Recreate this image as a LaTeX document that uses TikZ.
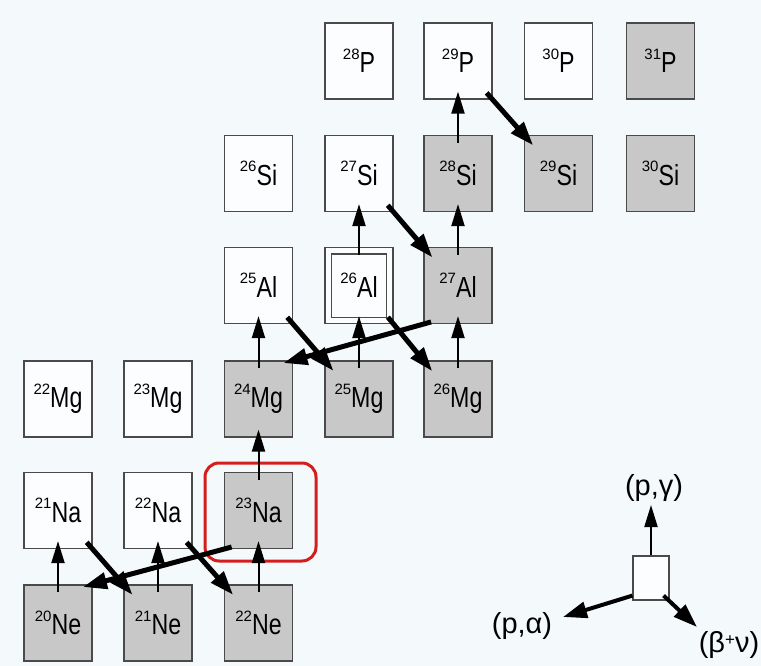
\documentclass[tikz,border=0pt]{standalone}
\usepackage{fontspec}
\setmainfont{Liberation Sans}
\usetikzlibrary{arrows.meta}
\definecolor{bg}{HTML}{F4FAFC}
\definecolor{stable}{HTML}{C8C8C8}
\definecolor{edgec}{HTML}{4A4A4A}
\definecolor{redbox}{HTML}{D41E1E}
\newcommand\iso[2]{\raisebox{13.5pt}{\fontsize{15}{15}\selectfont #1}\scalebox{0.8}[1]{\fontsize{29}{29}\selectfont #2}}
\begin{document}
\begin{tikzpicture}[x=1pt,y=-1pt,
 nuc/.style={draw=edgec, line width=1.2pt, minimum width=68pt, minimum height=76pt, inner sep=0pt, fill=white!60!bg},
 stab/.style={nuc, fill=stable},
 pgarr/.style={draw=black, line width=2pt, -{Triangle[length=22pt,width=13pt]}, shorten <=-8pt, shorten >=-8pt},
 bparr/.style={draw=black, line width=5pt, -{Triangle[length=24pt,width=16pt]}, shorten <=-9pt, shorten >=-14pt},
 paarr/.style={bparr, shorten <=-8pt, shorten >=-10pt},
 lab/.style={inner sep=0pt, font=\fontsize{29}{29}\selectfont},
]
\fill[bg] (0,0) rectangle (761,666);
\useasboundingbox (0,0) rectangle (761,666);
% nuclei
\node[stab] (ne20) at (58,623) {\iso{20}{Ne}};
\node[stab] (ne21) at (158,623) {\iso{21}{Ne}};
\node[stab] (ne22) at (258.5,623) {\iso{22}{Ne}};
\node[nuc] (na21) at (58,510.5) {\iso{21}{Na}};
\node[nuc] (na22) at (158,510.5) {\iso{22}{Na}};
\node[stab] (na23) at (258.5,510.5) {\iso{23}{Na}};
\node[nuc] (mg22) at (58,399) {\iso{22}{Mg}};
\node[nuc] (mg23) at (158,399) {\iso{23}{Mg}};
\node[stab] (mg24) at (258.5,399) {\iso{24}{Mg}};
\node[stab] (mg25) at (359,399) {\iso{25}{Mg}};
\node[stab] (mg26) at (458,399) {\iso{26}{Mg}};
\node[nuc] (al25) at (258.5,285.5) {\iso{25}{Al}};
\node[nuc] (al26) at (359,285.5) {\iso{26}{Al}};
\node[stab] (al27) at (458,285.5) {\iso{27}{Al}};
\node[nuc] (si26) at (258.5,173.5) {\iso{26}{Si}};
\node[nuc] (si27) at (359,173.5) {\iso{27}{Si}};
\node[stab] (si28) at (458,173.5) {\iso{28}{Si}};
\node[stab] (si29) at (558.5,173.5) {\iso{29}{Si}};
\node[stab] (si30) at (660.5,173.5) {\iso{30}{Si}};
\node[nuc] (p28) at (359,61) {\iso{28}{P}};
\node[nuc] (p29) at (458,61) {\iso{29}{P}};
\node[nuc] (p30) at (558.5,61) {\iso{30}{P}};
\node[stab] (p31) at (660.5,61) {\iso{31}{P}};
\draw[edgec, line width=1.2pt] ([xshift=7pt,yshift=-7pt]al26.north west) rectangle ([xshift=-7pt,yshift=7pt]al26.south east);
% highlight
\node[draw=redbox, line width=3pt, rounded corners=14pt, minimum width=111pt, minimum height=98pt, inner sep=0pt] (hl) at (260.5,512) {};
% (p,gamma)
\draw[pgarr] (ne20.north) -- (na21.south);
\draw[pgarr] (ne21.north) -- (na22.south);
\draw[pgarr] (ne22.north) -- (na23.south);
\draw[pgarr] (na23.north) -- (mg24.south);
\draw[pgarr] (mg24.north) -- (al25.south);
\draw[pgarr] (mg25.north) -- (al26.south);
\draw[pgarr] (mg26.north) -- (al27.south);
\draw[pgarr] (al26.north) -- (si27.south);
\draw[pgarr] (al27.north) -- (si28.south);
\draw[pgarr] (si28.north) -- (p29.south);
% beta+
\draw[bparr] (na21.south east) -- (ne21.north west);
\draw[bparr] (na22.south east) -- (ne22.north west);
\draw[bparr] (al25.south east) -- (mg25.north west);
\draw[bparr] (al26.south east) -- (mg26.north west);
\draw[bparr] (si27.south east) -- (al27.north west);
\draw[bparr] (p29.south east) -- (si29.north west);
% (p,alpha)
\draw[paarr] (na23.south west) -- (ne20.north east);
\draw[paarr] (al27.south west) -- (mg24.north east);
% legend
\node[draw=edgec, line width=1.2pt, fill=white!60!bg, minimum width=36pt, minimum height=44pt, inner sep=0pt] (leg) at (651,578) {};
\coordinate (tg) at (651,505);
\coordinate (ta) at (563,617);
\coordinate (tb) at (697,627);
\draw[pgarr, shorten <=0pt, shorten >=0pt] (leg.north) -- (tg);
\draw[bparr, line width=4pt, shorten <=0pt, shorten >=0pt] ([yshift=5pt]leg.south west) -- (ta);
\draw[bparr, line width=4pt, shorten <=0pt, shorten >=0pt] ([yshift=5pt,xshift=-6pt]leg.south east) -- (tb);
\node[lab] (lpg) at (654,488) {(p,γ)};
\node[lab] (lpa) at (522,626) {(p,α)};
\node[lab] (lbn) at (729,645) {(β\raisebox{7pt}{\fontsize{17}{17}\selectfont +}ν)};
\end{tikzpicture}
\end{document}
